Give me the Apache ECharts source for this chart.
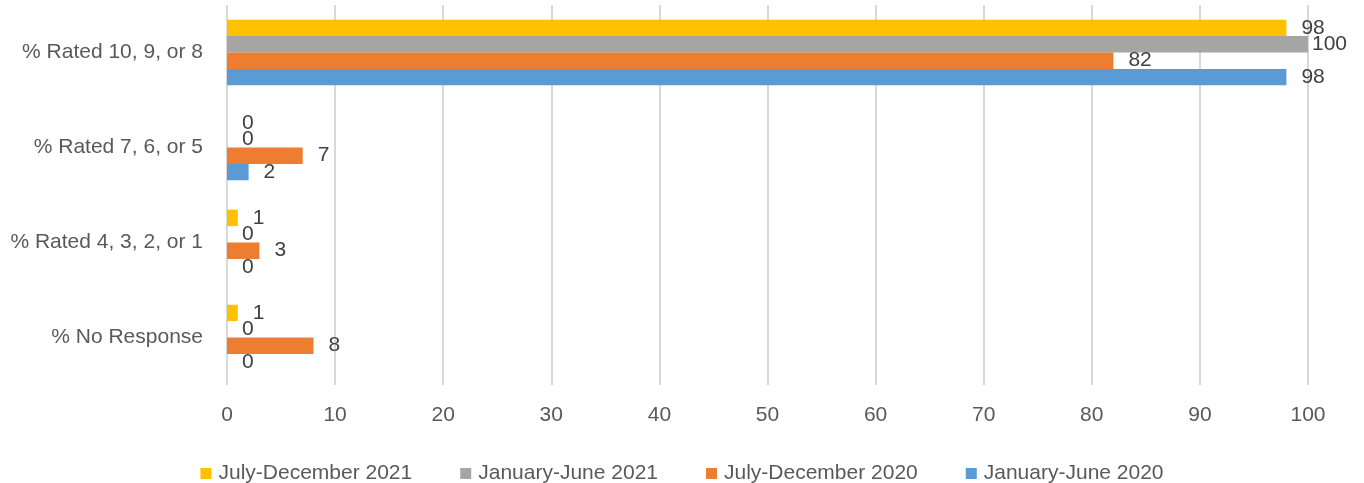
<!DOCTYPE html>
<html>
<head>
<meta charset="utf-8">
<script src="https://cdn.jsdelivr.net/npm/echarts@6/dist/echarts.min.js"></script>
<style>
  html, body { margin: 0; padding: 0; background: #ffffff; }
  #chart { width: 1364px; height: 483px; }
</style>
</head>
<body>
<div id="chart"></div>
<script>
// Rating categories, top to bottom
const categories = ['% Rated 10, 9, or 8', '% Rated 7, 6, or 5', '% Rated 4, 3, 2, or 1', '% No Response'];

// Survey periods (series), in legend order
const periods = ['July-December 2021', 'January-June 2021', 'July-December 2020', 'January-June 2020'];

// Percent of respondents per category
const julDec2021 = [98, 0, 1, 1];
const janJun2021 = [100, 0, 0, 0];
const julDec2020 = [82, 7, 3, 8];
const janJun2020 = [98, 2, 0, 0];

const xTicks = [0, 10, 20, 30, 40, 50, 60, 70, 80, 90, 100];

const seriesValues = [julDec2021, janJun2021, julDec2020, janJun2020];
const colors = ['#FFC000', '#A5A5A5', '#ED7D31', '#5B9BD5'];
const FONT = '"Liberation Sans", Arial, sans-serif';
const X_MAX = xTicks[xTicks.length - 1];

const chart = echarts.init(document.getElementById('chart'));

// Labels of bars that reach the axis maximum sit tight against the bar end
function barData(values) {
  return values.map(v => v >= X_MAX ? { value: v, label: { distance: 4 } } : v);
}

chart.setOption({
  animation: false,
  color: colors,
  textStyle: { fontFamily: FONT },
  grid: { left: 227, right: 56, top: 5, height: 380, containLabel: false },
  legend: {
    data: periods,
    left: 'center',
    top: 458,
    icon: 'rect',
    itemWidth: 11,
    itemHeight: 11,
    itemGap: 48,
    textStyle: { fontFamily: FONT, fontSize: 21, color: '#595959', padding: [0, 0, 0, 2] }
  },
  xAxis: {
    type: 'value',
    min: xTicks[0],
    max: X_MAX,
    interval: 10,
    axisLine: { show: false },
    axisTick: { show: false },
    axisLabel: { fontSize: 21, color: '#595959', margin: 20, fontFamily: FONT },
    splitLine: { show: true, lineStyle: { color: '#D9D9D9', width: 2 } }
  },
  yAxis: {
    type: 'category',
    inverse: true,
    data: categories,
    axisLine: { show: false },
    axisTick: { show: false },
    axisLabel: { fontSize: 21, color: '#595959', margin: 24, fontFamily: FONT }
  },
  series: periods.map((name, i) => ({
    name: name,
    type: 'bar',
    data: barData(seriesValues[i]),
    barGap: '0%',
    barCategoryGap: '31%',
    label: {
      show: true,
      position: 'right',
      distance: 15,
      fontSize: 21,
      color: '#404040',
      fontFamily: FONT
    }
  }))
});
</script>
</body>
</html>
